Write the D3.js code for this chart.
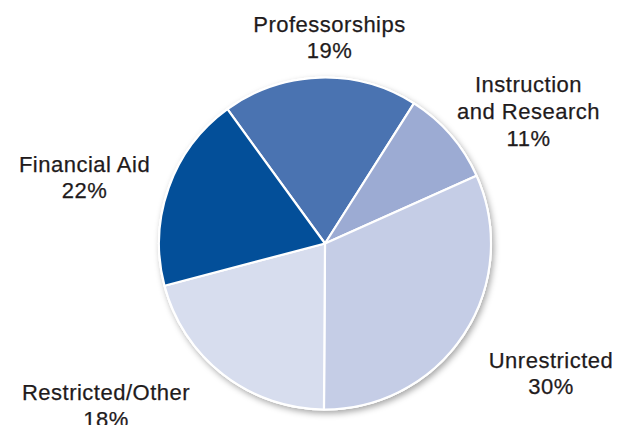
<!DOCTYPE html>
<html>
<head>
<meta charset="utf-8">
<script src="https://d3js.org/d3.v7.min.js"></script>
<style>
  body { margin: 0; background: #fff; }
  svg { display: block; }
  text { font-family: "Liberation Sans", Arial, sans-serif; font-size: 22px; fill: #1f1b1c; letter-spacing: 0.5px; stroke: #1f1b1c; stroke-width: 0.25px; }
</style>
</head>
<body>
<svg width="634" height="425"></svg>
<script>
// slice order clockwise, starting at the Financial Aid / Professorships edge
var categories = ["Professorships", "Instruction and Research", "Unrestricted", "Restricted/Other", "Financial Aid"];
var shares = [19.0, 9.3, 31.8, 20.8, 19.1];   // measured slice sizes
var labels = ["19%", "11%", "30%", "18%", "22%"]; // printed values
var colors = ["#4a73b1", "#9cabd3", "#c5cde6", "#d7ddee", "#034f99"];

var labelLines = [["Professorships"], ["Instruction", "and Research"], ["Unrestricted"], ["Restricted/Other"], ["Financial Aid"]];
// label anchor (center x, first baseline y)
var labelAt = [[329.5, 31.7], [528.5, 92.3], [551, 367.7], [106, 400], [84.5, 171.7]];

var svg = d3.select("svg");
var cx = 325, cy = 243.5, r = 166;

var defs = svg.append("defs");
var f = defs.append("filter").attr("id", "shadow")
  .attr("x", "-10%").attr("y", "-10%").attr("width", "130%").attr("height", "130%");
f.append("feDropShadow").attr("dx", 2).attr("dy", 3).attr("stdDeviation", 3)
  .attr("flood-color", "#000").attr("flood-opacity", 0.35);

var pie = d3.pie().sort(null)
  .startAngle(-36 * Math.PI / 180)
  .endAngle(324 * Math.PI / 180);
var arc = d3.arc().innerRadius(0).outerRadius(r);

var g = svg.append("g").attr("transform", "translate(" + cx + "," + cy + ")");

g.append("circle").attr("r", r + 1).attr("fill", "#fff").attr("filter", "url(#shadow)");

g.selectAll("path").data(pie(shares)).enter().append("path")
  .attr("d", arc)
  .attr("fill", function (d, i) { return colors[i]; })
  .attr("stroke", "#fff")
  .attr("stroke-width", 2.2)
  .attr("stroke-linejoin", "round");

var lineH = 26.6;
categories.forEach(function (c, i) {
  var t = svg.append("text")
    .attr("text-anchor", "middle")
    .attr("x", labelAt[i][0])
    .attr("y", labelAt[i][1]);
  labelLines[i].concat([labels[i]]).forEach(function (s, j) {
    t.append("tspan").attr("x", labelAt[i][0]).attr("dy", j === 0 ? 0 : lineH).text(s);
  });
});
</script>
</body>
</html>
